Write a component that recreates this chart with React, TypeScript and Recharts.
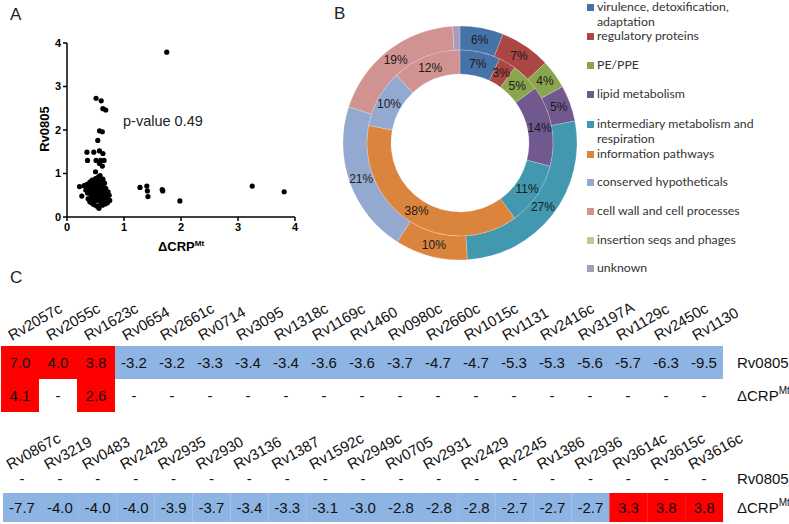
import {
	ScatterChart,
	Scatter,
	XAxis,
	YAxis,
	PieChart,
	Pie,
	Cell,
	BarChart,
	Bar,
	LabelList,
} from "recharts";

// panel A: fold change of Rv0805 vs ΔCRP^Mt per gene
const scatterPoints: [number, number][] = [
	[1.75, 3.79], [3.25, 0.71], [3.81, 0.58], [1.98, 0.37], [1.68, 0.6], [1.67, 0.63],
	[1.28, 0.68], [1.4, 0.71], [1.41, 0.6], [1.42, 0.47],
	[0.51, 2.73], [0.6, 2.67], [0.63, 2.49], [0.68, 2.46], [0.57, 1.98], [0.62, 1.96],
	[0.54, 1.76], [0.35, 1.49], [0.47, 1.49], [0.57, 1.52], [0.63, 1.46], [0.36, 1.3],
	[0.51, 1.3], [0.59, 1.3], [0.65, 1.3], [0.57, 1.23], [0.62, 1.17], [0.5, 1.04],
	[0.22, 0.7], [0.26, 0.48], [0.3, 0.72], [0.33, 0.62], [0.35, 0.75], [0.36, 0.55],
	[0.37, 0.42], [0.38, 0.68], [0.4, 0.8], [0.4, 0.35], [0.41, 0.6], [0.42, 0.5],
	[0.43, 0.72], [0.44, 0.85], [0.44, 0.4], [0.45, 0.65], [0.46, 0.55], [0.46, 0.3],
	[0.47, 0.78], [0.48, 0.62], [0.48, 0.45], [0.49, 0.7], [0.5, 0.88], [0.5, 0.52],
	[0.51, 0.38], [0.51, 0.66], [0.52, 0.8], [0.52, 0.58], [0.53, 0.72], [0.53, 0.25],
	[0.54, 0.47], [0.54, 0.63], [0.55, 0.85], [0.55, 0.55], [0.56, 0.7], [0.56, 0.4],
	[0.57, 0.77], [0.57, 0.6], [0.58, 0.5], [0.56, 0.2], [0.59, 0.68], [0.59, 0.33],
	[0.6, 0.82], [0.6, 0.57], [0.61, 0.73], [0.61, 0.45], [0.62, 0.64], [0.63, 0.52],
	[0.63, 0.87], [0.64, 0.7], [0.64, 0.38], [0.65, 0.6], [0.66, 0.78], [0.66, 0.48],
	[0.67, 0.3], [0.68, 0.66], [0.69, 0.55], [0.7, 0.42], [0.71, 0.33], [0.72, 0.58],
	[0.74, 0.5], [0.75, 0.38], [0.62, 0.27], [0.48, 0.28], [0.43, 0.33], [0.55, 0.92],
	[0.58, 0.95],
];
const axisTicks = [0, 1, 2, 3, 4];

// panel B: functional categories (outer ring / inner ring, %)
const categories = [
	"virulence, detoxification, adaptation",
	"regulatory proteins",
	"PE/PPE",
	"lipid metabolism",
	"intermediary metabolism and respiration",
	"information pathways",
	"conserved hypotheticals",
	"cell wall and cell processes",
	"insertion seqs and phages",
	"unknown",
];
const categoryColors = [
	"#4572A7", "#AA4643", "#89A54E", "#71588F", "#4198AF",
	"#DB843D", "#93A9CF", "#D19392", "#B9CD96", "#A99BBD",
];
const outerShares = [6, 7, 4, 5, 27, 10, 21, 19, 0, 1];
const innerShares = [7, 3, 5, 14, 11, 38, 10, 12, 0, 0];
const legendRows = [
	["virulence, detoxification,", "adaptation"],
	["regulatory proteins"],
	["PE/PPE"],
	["lipid metabolism"],
	["intermediary metabolism and", "respiration"],
	["information pathways"],
	["conserved hypotheticals"],
	["cell wall and cell processes"],
	["insertion seqs and phages"],
	["unknown"],
];
const legendTops = [7, 36, 65, 94, 124, 154, 182, 211, 240, 268];

// panel C: fold changes
const topGenes = [
	"Rv2057c", "Rv2055c", "Rv1623c", "Rv0654", "Rv2661c", "Rv0714", "Rv3095",
	"Rv1318c", "Rv1169c", "Rv1460", "Rv0980c", "Rv2660c", "Rv1015c", "Rv1131",
	"Rv2416c", "Rv3197A", "Rv1129c", "Rv2450c", "Rv1130",
];
const topRv0805 = [
	7.0, 4.0, 3.8, -3.2, -3.2, -3.3, -3.4, -3.4, -3.6, -3.6, -3.7, -4.7, -4.7,
	-5.3, -5.3, -5.6, -5.7, -6.3, -9.5,
];
const topCrp = [
	4.1, null, 2.6, null, null, null, null, null, null, null, null, null, null,
	null, null, null, null, null, null,
];
const bottomGenes = [
	"Rv0867c", "Rv3219", "Rv0483", "Rv2428", "Rv2935", "Rv2930", "Rv3136",
	"Rv1387", "Rv1592c", "Rv2949c", "Rv0705", "Rv2931", "Rv2429", "Rv2245",
	"Rv1386", "Rv2936", "Rv3614c", "Rv3615c", "Rv3616c",
];
const bottomRv0805 = bottomGenes.map(() => null);
const bottomCrp = [
	-7.7, -4.0, -4.0, -4.0, -3.9, -3.7, -3.4, -3.3, -3.1, -3.0, -2.8, -2.8, -2.8,
	-2.7, -2.7, -2.7, 3.3, 3.8, 3.8,
];

const FONT = "'Liberation Sans', Arial, sans-serif";
const RAD = Math.PI / 180;

const fmt = (v: number | null) => (v == null ? "-" : v.toFixed(1));
const cellColor = (v: number | null) =>
	v == null ? "transparent" : v > 0 ? "#FF0000" : "#8DB4E2";

const buildRows = (
	genes: string[],
	rv: (number | null)[],
	crp: (number | null)[],
) =>
	genes.map((gene, i) => ({
		gene,
		rv: rv[i],
		crp: crp[i],
		rvText: fmt(rv[i]),
		crpText: fmt(crp[i]),
	}));

const renderPct = (p: any) => {
	if (!p.value || p.value < 2) return null;
	const r = (p.innerRadius + p.outerRadius) / 2;
	const x = p.cx + r * Math.cos(-p.midAngle * RAD);
	const y = p.cy + r * Math.sin(-p.midAngle * RAD);
	return (
		<text
			x={x}
			y={y}
			textAnchor="middle"
			dominantBaseline="central"
			fontSize={12}
			fontFamily={FONT}
			fill="#1a1a1a"
		>
			{p.value}%
		</text>
	);
};

const CrpLabel = ({ size }: { size: number }) => (
	<span>
		ΔCRP<sup style={{ fontSize: size * 0.62, verticalAlign: "super" }}>Mt</sup>
	</span>
);

function GeneTable({
	rows,
	top,
	height,
	axisHeight,
	left,
	labelY,
	labelDx,
	angle,
}: {
	rows: ReturnType<typeof buildRows>;
	top: number;
	height: number;
	axisHeight: number;
	left: number;
	labelY: number;
	labelDx: number;
	angle: number;
}) {
	return (
		<div style={{ position: "absolute", left: 0, top }}>
			<BarChart
				width={789}
				height={height}
				data={rows}
				margin={{ top: 0, right: 0, left, bottom: 0 }}
				barCategoryGap={0}
				barGap={0}
			>
				<XAxis
					dataKey="gene"
					orientation="top"
					height={axisHeight}
					axisLine={false}
					tickLine={false}
					interval={0}
					tick={(t: any) => (
						<g transform={`translate(${t.x + labelDx},${labelY})`}>
							<text
								x={0}
								y={0}
								transform={`rotate(${angle})`}
								textAnchor="start"
								fontSize={15}
								fontFamily={FONT}
								fill="#111"
							>
								{t.payload.value}
							</text>
						</g>
					)}
				/>
				<YAxis
					orientation="right"
					type="number"
					domain={[0, 2]}
					ticks={[0.5, 1.5]}
					width={66}
					axisLine={false}
					tickLine={false}
					tick={(t: any) => (
						<text
							x={737}
							y={t.y}
							dominantBaseline="central"
							fontSize={15}
							fontFamily={FONT}
							fill="#111"
						>
							{t.payload.value > 1 ? (
								"Rv0805"
							) : (
								<>
									ΔCRP
									<tspan fontSize={10} dy={-6}>
										Mt
									</tspan>
								</>
							)}
						</text>
					)}
				/>
				<Bar dataKey={() => 1} stackId="c" isAnimationActive={false}>
					{rows.map((r) => (
						<Cell key={`c-${r.gene}`} fill={cellColor(r.crp)} />
					))}
					<LabelList
						dataKey="crpText"
						position="center"
						fontSize={15}
						fontFamily={FONT}
						fill="#111"
					/>
				</Bar>
				<Bar dataKey={() => 1} stackId="c" isAnimationActive={false}>
					{rows.map((r) => (
						<Cell key={`r-${r.gene}`} fill={cellColor(r.rv)} />
					))}
					<LabelList
						dataKey="rvText"
						position="center"
						fontSize={15}
						fontFamily={FONT}
						fill="#111"
					/>
				</Bar>
			</BarChart>
		</div>
	);
}

export default function App() {
	const scatterData = scatterPoints.map(([x, y]) => ({ x, y }));
	const outerData = categories.map((name, i) => ({ name, value: outerShares[i] }));
	const innerData = categories.map((name, i) => ({ name, value: innerShares[i] }));
	const topRows = buildRows(topGenes, topRv0805, topCrp);
	const bottomRows = buildRows(bottomGenes, bottomRv0805, bottomCrp);
	const letter = { position: "absolute" as const, fontSize: 17, color: "#222" };

	return (
		<div
			style={{
				position: "absolute",
				left: 0,
				top: 0,
				width: 789,
				height: 524,
				background: "#fff",
				fontFamily: FONT,
				overflow: "hidden",
			}}
		>
			<div style={{ ...letter, left: 10, top: 5 }}>A</div>
			<div style={{ ...letter, left: 334, top: 4 }}>B</div>
			<div style={{ ...letter, left: 10, top: 268 }}>C</div>

			{/* panel A */}
			<div style={{ position: "absolute", left: 0, top: 0 }}>
				<ScatterChart
					width={310}
					height={260}
					margin={{ top: 43, right: 15, bottom: 13, left: 37 }}
				>
					<XAxis
						type="number"
						dataKey="x"
						domain={[0, 4]}
						ticks={axisTicks}
						height={30}
						stroke="#000"
						strokeWidth={1.5}
						tickSize={4}
						tick={{ fontSize: 11, fontWeight: "bold", fill: "#000" }}
					/>
					<YAxis
						type="number"
						dataKey="y"
						domain={[0, 4]}
						ticks={axisTicks}
						width={30}
						stroke="#000"
						strokeWidth={1.5}
						tickSize={4}
						tick={{ fontSize: 11, fontWeight: "bold", fill: "#000" }}
					/>
					<Scatter
						data={scatterData}
						isAnimationActive={false}
						shape={(p: any) => <circle cx={p.cx} cy={p.cy} r={2.6} fill="#000" />}
					/>
				</ScatterChart>
			</div>
			<div
				style={{
					position: "absolute",
					left: 44,
					top: 129,
					transform: "translate(-50%,-50%) rotate(-90deg)",
					fontSize: 13,
					fontWeight: "bold",
					whiteSpace: "nowrap",
				}}
			>
				Rv0805
			</div>
			<div
				style={{
					position: "absolute",
					left: 181,
					top: 247,
					transform: "translate(-50%,-50%)",
					fontSize: 13,
					fontWeight: "bold",
					whiteSpace: "nowrap",
				}}
			>
				<CrpLabel size={13} />
			</div>
			<div
				style={{
					position: "absolute",
					left: 123,
					top: 113,
					fontSize: 14.5,
					color: "#222",
					whiteSpace: "nowrap",
				}}
			>
				p-value 0.49
			</div>

			{/* panel B */}
			<div style={{ position: "absolute", left: 330, top: 0 }}>
				<PieChart width={250} height={270}>
					<Pie
						data={outerData}
						dataKey="value"
						cx={125}
						cy={138}
						innerRadius={93}
						outerRadius={117}
						startAngle={90}
						endAngle={-270}
						stroke="rgba(255,255,255,0.35)"
						strokeWidth={0.6}
						label={renderPct}
						labelLine={false}
						isAnimationActive={false}
					>
						{outerData.map((d, i) => (
							<Cell key={`o-${d.name}`} fill={categoryColors[i]} />
						))}
					</Pie>
					<Pie
						data={innerData}
						dataKey="value"
						cx={125}
						cy={138}
						innerRadius={69}
						outerRadius={93}
						startAngle={90}
						endAngle={-270}
						stroke="rgba(255,255,255,0.35)"
						strokeWidth={0.6}
						label={renderPct}
						labelLine={false}
						isAnimationActive={false}
					>
						{innerData.map((d, i) => (
							<Cell key={`i-${d.name}`} fill={categoryColors[i]} />
						))}
					</Pie>
				</PieChart>
			</div>
			{legendRows.map((lines, i) => (
				<div
					key={categories[i]}
					style={{
						position: "absolute",
						left: 587,
						top: legendTops[i] - 7,
						fontFamily: "Lato, 'Open Sans', sans-serif",
						fontSize: 12.3,
						lineHeight: "14px",
						color: "#333",
					}}
				>
					<span
						style={{
							position: "absolute",
							left: 0,
							top: 3.5,
							width: 7,
							height: 7,
							background: categoryColors[i],
						}}
					/>
					<div style={{ marginLeft: 10, whiteSpace: "nowrap" }}>
						{lines.map((l, k) => (
							<div key={l} style={{ marginTop: k ? 1 : 0 }}>
								{l}
							</div>
						))}
					</div>
				</div>
			))}

			{/* panel C */}
			<GeneTable
				rows={topRows}
				top={270}
				height={142}
				axisHeight={76}
				left={1}
				labelY={71}
				labelDx={-8}
				angle={-30}
			/>
			<GeneTable
				rows={bottomRows}
				top={420}
				height={102}
				axisHeight={44}
				left={3}
				labelY={50}
				labelDx={-12}
				angle={-29}
			/>
		</div>
	);
}
